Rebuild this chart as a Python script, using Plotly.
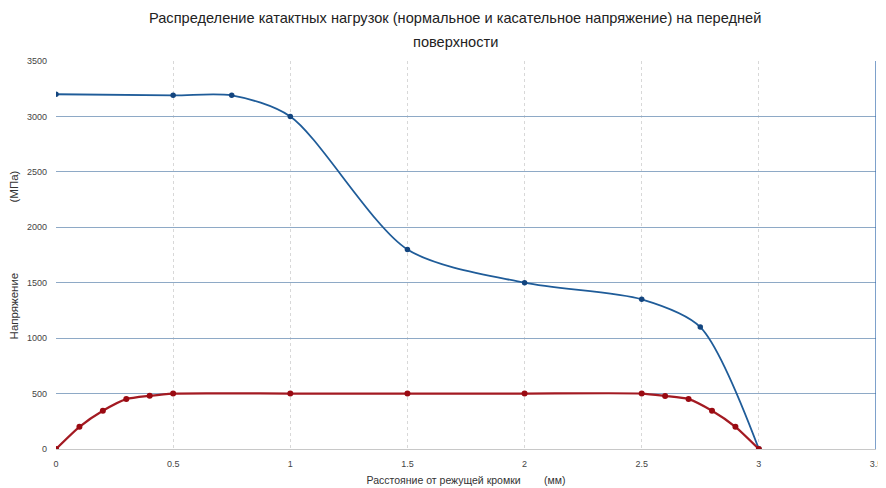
import plotly.graph_objects as go

blue_x = [0, 0.5, 0.75, 1, 1.5, 2, 2.5, 2.75, 3]
blue_y = [3200, 3190, 3190, 3000, 1800, 1500, 1350, 1100, 0]
red_x = [0, 0.1, 0.2, 0.3, 0.4, 0.5, 1, 1.5, 2, 2.5, 2.6, 2.7, 2.8, 2.9, 3]
red_y = [0, 200, 345, 450, 480, 500, 500, 500, 500, 500, 478, 450, 345, 200, 0]
x_ticks = [0, 0.5, 1, 1.5, 2, 2.5, 3, 3.5]
y_ticks = [0, 500, 1000, 1500, 2000, 2500, 3000, 3500]

title_line1 = "Распределение катактных нагрузок (нормальное и касательное напряжение) на передней"
title_line2 = "поверхности"
x_title = "Расстояние от режущей кромки" + "\u00a0" * 8 + "(мм)"
y_title = "Напряжение" + "\u00a0" * 22 + "(МПа)"

fig = go.Figure()
fig.add_trace(go.Scatter(x=blue_x, y=blue_y, mode="lines+markers",
                         line=dict(color="#1f5c99", width=1.8, shape="spline", smoothing=0.8),
                         marker=dict(color="#13457f", size=5.5), showlegend=False))
fig.add_trace(go.Scatter(x=red_x, y=red_y, mode="lines+markers",
                         line=dict(color="#a31a22", width=2.2, shape="spline", smoothing=0.6),
                         marker=dict(color="#9a0a12", size=6), showlegend=False))

fig.update_layout(
    width=878, height=480,
    margin=dict(l=48, r=10, t=53, b=39, autoexpand=False),
    paper_bgcolor="white", plot_bgcolor="white",
    font=dict(family="Liberation Sans", color="#333333"),
    xaxis=dict(range=[0, 3.5], tickvals=x_ticks, ticktext=[str(v) for v in x_ticks],
               showgrid=True, gridcolor="#d8d8d8", griddash="dot", gridwidth=1,
               zeroline=False, showline=True, linecolor="#c8c8c8", automargin=False,
               tickfont=dict(size=9, color="#444444"), ticks="", ticklabelstandoff=6,
               title=dict(text=x_title, font=dict(size=10.5, color="#333333"), standoff=8)),
    yaxis=dict(range=[0, 3500], tickvals=y_ticks, ticktext=[str(v) for v in y_ticks],
               showgrid=True, gridcolor="#8ea9c6", gridwidth=1.3, automargin=False,
               zeroline=False, showline=False,
               tickfont=dict(size=9, color="#444444"), ticks="", ticklabelstandoff=8,
               title=dict(text=y_title, font=dict(size=11.5, color="#333333"), standoff=7)),
    annotations=[
        dict(text=title_line1, xref="paper", yref="paper", x=0.487, y=1.0,
             yshift=43, xanchor="center", yanchor="middle", showarrow=False,
             font=dict(size=14.6, color="#222222")),
        dict(text=title_line2, xref="paper", yref="paper", x=0.487, y=1.0,
             yshift=19, xanchor="center", yanchor="middle", showarrow=False,
             font=dict(size=14.6, color="#222222")),
    ],
)
fig.add_shape(type="line", xref="x", yref="paper", x0=3.5, x1=3.5, y0=0, y1=1,
              line=dict(color="#3a6fb0", width=1.3))
fig.write_html("out.html")
